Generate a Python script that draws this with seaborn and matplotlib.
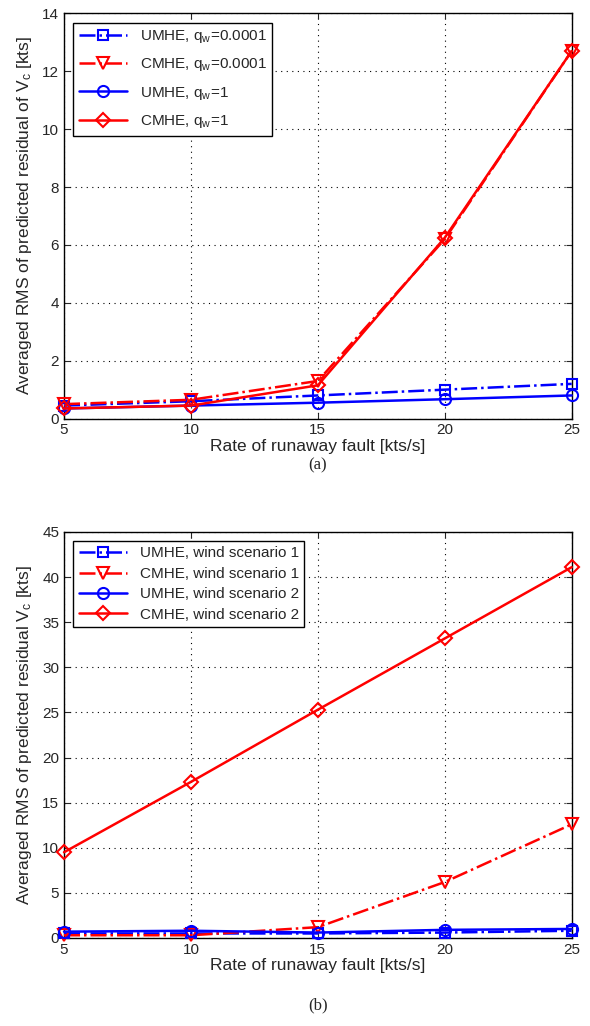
import numpy as np
import pandas as pd
import matplotlib
matplotlib.use('Agg')
import matplotlib.pyplot as plt
import seaborn as sns

# 数据
rates = [5, 10, 15, 20, 25]

# (a) 不同 q_w
umhe_q0001 = [0.45, 0.6, 0.8, 1.0, 1.2]
cmhe_q0001 = [0.5, 0.65, 1.3, 6.2, 12.7]
umhe_q1 = [0.35, 0.45, 0.55, 0.67, 0.8]
cmhe_q1 = [0.35, 0.45, 1.15, 6.25, 12.7]

# (b) 不同风场景
umhe_ws1 = [0.5, 0.5, 0.5, 0.6, 0.8]
cmhe_ws1 = [0.3, 0.3, 1.2, 6.2, 12.6]
umhe_ws2 = [0.7, 0.8, 0.6, 0.9, 1.0]
cmhe_ws2 = [9.5, 17.3, 25.3, 33.2, 41.1]

labels_a = ['UMHE, $\\mathregular{q_w}$=0.0001', 'CMHE, $\\mathregular{q_w}$=0.0001',
            'UMHE, $\\mathregular{q_w}$=1', 'CMHE, $\\mathregular{q_w}$=1']
labels_b = ['UMHE, wind scenario 1', 'CMHE, wind scenario 1',
            'UMHE, wind scenario 2', 'CMHE, wind scenario 2']

sns.set_style('ticks')
plt.rcParams['font.family'] = ['Liberation Sans', 'DejaVu Sans']
plt.rcParams['mathtext.fontset'] = 'custom'
plt.rcParams['mathtext.rm'] = 'Liberation Sans'
plt.rcParams['axes.unicode_minus'] = False

styles = [
    dict(color='blue', linestyle='-.', marker='s', markersize=7),
    dict(color='red', linestyle='-.', marker='v', markersize=9),
    dict(color='blue', linestyle='-', marker='o', markersize=8),
    dict(color='red', linestyle='-', marker='D', markersize=7),
]


def draw_panel(ax, series, labels, yticks, ylabel, spacing):
    for vals, lab, st in zip(series, labels, styles):
        df = pd.DataFrame({'rate': rates, 'rms': vals})
        sns.lineplot(data=df, x='rate', y='rms', ax=ax, label=lab,
                     color=st['color'], linestyle=st['linestyle'],
                     marker=st['marker'], markersize=st['markersize'],
                     markerfacecolor='none', markeredgecolor=st['color'],
                     markeredgewidth=1.5, linewidth=1.8, clip_on=False, zorder=3)
    ax.set_xlim(5, 25)
    ax.set_xticks(rates)
    ax.set_ylim(yticks[0], yticks[-1])
    ax.set_yticks(yticks)
    ax.grid(True, linestyle=(0, (1, 4)), color='black', linewidth=0.8)
    ax.tick_params(direction='in', top=True, right=True, labelsize=11, length=4)
    for sp in ax.spines.values():
        sp.set_linewidth(1.0)
        sp.set_color('black')
        sp.set_zorder(2)
    ax.set_xlabel('Rate of runaway fault [kts/s]', fontsize=12.5, labelpad=1)
    ax.set_ylabel(ylabel, fontsize=12.5, labelpad=6)
    leg = ax.legend(loc='upper left', fontsize=11, fancybox=False, framealpha=1,
                    edgecolor='black', handlelength=3.2, borderpad=0.35,
                    labelspacing=spacing, borderaxespad=0.6)
    leg.get_frame().set_linewidth(1.0)
    leg.set_zorder(5)


fig = plt.figure(figsize=(5.9, 10.26), dpi=100)
ax_a = fig.add_axes([0.1085, 0.592, 0.8605, 0.395])
ax_b = fig.add_axes([0.1085, 0.0858, 0.8605, 0.3957])

draw_panel(ax_a, [umhe_q0001, cmhe_q0001, umhe_q1, cmhe_q1], labels_a,
           np.arange(0, 15, 2), 'Averaged RMS of predicted residual of $\\mathregular{V_c}$ [kts]', 0.75)
draw_panel(ax_b, [umhe_ws1, cmhe_ws1, umhe_ws2, cmhe_ws2], labels_b,
           np.arange(0, 46, 5), 'Averaged RMS of predicted residual $\\mathregular{V_c}$ [kts]', 0.42)

fig.text(0.539, 1 - 465 / 1026, '(a)', ha='center', va='center', fontsize=12,
         family='Liberation Serif')
fig.text(0.539, 1 - 1005 / 1026, '(b)', ha='center', va='center', fontsize=12,
         family='Liberation Serif')

fig.savefig('out.png', dpi=100)
